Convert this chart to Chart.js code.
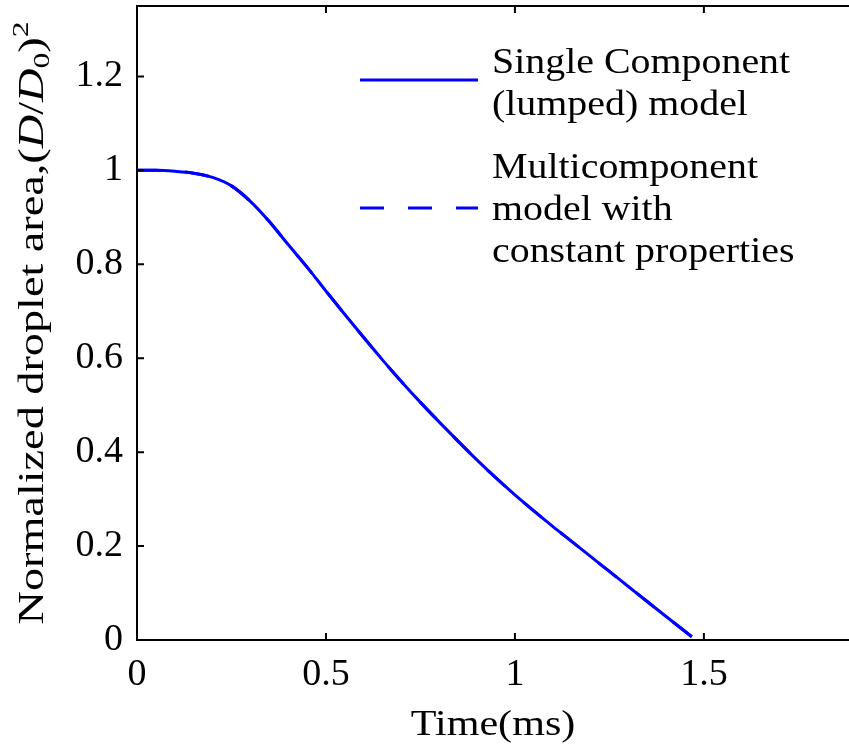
<!DOCTYPE html>
<html>
<head>
<meta charset="utf-8">
<script src="https://cdn.jsdelivr.net/npm/chart.js@4/dist/chart.umd.min.js"></script>
<style>
html, body { margin: 0; padding: 0; background: #fff; }
</style>
</head>
<body>
<canvas id="myChart" width="849" height="749"></canvas>
<script>
// values
const timeMs = [0, 0.05, 0.10, 0.15, 0.20, 0.25, 0.30, 0.35, 0.40, 0.45, 0.50, 0.55, 0.60, 0.65, 0.70, 0.75, 0.80, 0.85, 0.90, 0.95, 1.00, 1.05, 1.10, 1.15, 1.20, 1.25, 1.30, 1.35, 1.40, 1.468];
const singleArea = [1.000, 1.000, 0.998, 0.994, 0.985, 0.967, 0.934, 0.891, 0.842, 0.794, 0.743, 0.693, 0.644, 0.596, 0.550, 0.506, 0.464, 0.423, 0.383, 0.345, 0.309, 0.275, 0.242, 0.210, 0.178, 0.146, 0.114, 0.082, 0.050, 0.007];
const multiArea = [1.000, 1.000, 0.998, 0.994, 0.985, 0.967, 0.934, 0.891, 0.842, 0.794, 0.743, 0.693, 0.644, 0.596, 0.550, 0.506, 0.464, 0.423, 0.383, 0.345, 0.309, 0.275, 0.242, 0.210, 0.178, 0.146, 0.114, 0.082, 0.050, 0.007];
const xTicks = [0, 0.5, 1, 1.5];
const xTickLabels = ['0', '0.5', '1', '1.5'];
const yTicks = [0, 0.2, 0.4, 0.6, 0.8, 1, 1.2];
const yTickLabels = ['0', '0.2', '0.4', '0.6', '0.8', '1', '1.2'];
const seriesNames = [['Single Component', '(lumped) model'], ['Multicomponent', 'model with', 'constant properties']];
const xTitle = 'Time(ms)';

const serif = '"Liberation Serif", "DejaVu Serif", serif';

const toPoints = (ys) => timeMs.map((t, i) => ({ x: t, y: ys[i] }));

// the original uses a wider (LaTeX) serif, so stretch a bit
const stretchText = (ctx, text, x, y, sx) => {
    ctx.save();
    ctx.translate(x, y);
    ctx.scale(sx, 1);
    ctx.fillText(text, 0, 0);
    ctx.restore();
};

const matlabAxes = {
    id: 'matlabAxes',
    afterDraw(chart) {
        const ctx = chart.ctx;
        const area = chart.chartArea;
        const xs = chart.scales.x;
        const ys = chart.scales.y;
        ctx.save();
        ctx.strokeStyle = '#000';
        ctx.lineWidth = 2;
        // top border
        ctx.beginPath();
        ctx.moveTo(area.left, area.top);
        ctx.lineTo(area.right, area.top);
        ctx.stroke();
        // inward ticks
        const tl = 7;
        ctx.beginPath();
        xTicks.forEach(v => {
            const px = xs.getPixelForValue(v);
            ctx.moveTo(px, area.bottom);
            ctx.lineTo(px, area.bottom - tl);
            ctx.moveTo(px, area.top);
            ctx.lineTo(px, area.top + tl);
        });
        yTicks.forEach(v => {
            const py = ys.getPixelForValue(v);
            ctx.moveTo(area.left, py);
            ctx.lineTo(area.left + tl, py);
        });
        ctx.stroke();

        // legend
        const datasets = chart.data.datasets;
        const lineY = [80, 208];
        const textTop = [73, 178];
        datasets.forEach((ds, i) => {
            ctx.strokeStyle = ds.borderColor;
            ctx.lineWidth = ds.borderWidth;
            ctx.setLineDash(ds.borderDash || []);
            ctx.beginPath();
            ctx.moveTo(360, lineY[i]);
            ctx.lineTo(478, lineY[i]);
            ctx.stroke();
            ctx.setLineDash([]);
            ctx.fillStyle = '#000';
            ctx.font = '35px ' + serif;
            ctx.textBaseline = 'alphabetic';
            ctx.textAlign = 'left';
            seriesNames[i].forEach((s, j) => {
                stretchText(ctx, s, 492, textTop[i] + j * 42, 1.14);
            });
        });

        // x axis title
        ctx.font = '36px ' + serif;
        ctx.textAlign = 'center';
        stretchText(ctx, xTitle, (area.left + area.right) / 2, 735, 1.17);

        // y axis title with math parts
        const parts = [
            { t: 'Normalized droplet area,', f: '35px ' + serif, dy: 0 },
            { t: '(', f: '35px ' + serif, dy: 0 },
            { t: 'D', f: 'italic 35px ' + serif, dy: 0 },
            { t: '/', f: '35px ' + serif, dy: 0 },
            { t: 'D', f: 'italic 35px ' + serif, dy: 0 },
            { t: '0', f: '24px ' + serif, dy: 6 },
            { t: ')', f: '35px ' + serif, dy: 0 },
            { t: '2', f: '24px ' + serif, dy: -15 }
        ];
        let total = 0;
        parts.forEach(p => { ctx.font = p.f; p.w = ctx.measureText(p.t).width; total += p.w; });
        const targetLen = 603;
        ctx.translate(43, (area.top + area.bottom) / 2);
        ctx.rotate(-Math.PI / 2);
        ctx.scale(targetLen / total, 1);
        ctx.textAlign = 'left';
        ctx.textBaseline = 'alphabetic';
        let x = -total / 2;
        parts.forEach(p => {
            ctx.font = p.f;
            ctx.fillText(p.t, x, p.dy);
            x += p.w;
        });
        ctx.restore();
    }
};

const data = {
    datasets: [{
        label: seriesNames[0].join(' '),
        data: toPoints(singleArea),
        borderColor: '#0000ff',
        borderWidth: 3,
        pointRadius: 0,
        cubicInterpolationMode: 'monotone'
    }, {
        label: seriesNames[1].join(' '),
        data: toPoints(multiArea),
        borderColor: '#0000ff',
        borderWidth: 3,
        borderDash: [24, 24],
        pointRadius: 0,
        cubicInterpolationMode: 'monotone'
    }]
};

const config = {
    type: 'line',
    data: data,
    options: {
        responsive: false,
        animation: false,
        devicePixelRatio: 1,
        layout: { padding: { top: 6, left: 0, right: 0, bottom: 0 } },
        plugins: { legend: { display: false }, tooltip: { enabled: false } },
        scales: {
            x: {
                type: 'linear',
                min: 0,
                max: 1.884,
                afterBuildTicks: (s) => { s.ticks = xTicks.map(v => ({ value: v })); },
                afterFit: (s) => { s.height = 109; s.paddingLeft = 0; s.paddingRight = 0; },
                grid: { display: true, drawOnChartArea: false, drawTicks: false },
                border: { color: '#000', width: 2 },
                ticks: {
                    color: '#000',
                    font: { family: serif, size: 38 },
                    padding: 12,
                    maxRotation: 0,
                    callback: (v) => xTickLabels[xTicks.indexOf(v)]
                }
            },
            y: {
                type: 'linear',
                min: 0,
                max: 1.35,
                afterBuildTicks: (s) => { s.ticks = yTicks.map(v => ({ value: v })); },
                afterFit: (s) => { s.width = 137; s.paddingTop = 0; s.paddingBottom = 0; },
                grid: { display: true, drawOnChartArea: false, drawTicks: false },
                border: { color: '#000', width: 2 },
                ticks: {
                    color: '#000',
                    font: { family: serif, size: 38 },
                    padding: 14,
                    callback: (v) => yTickLabels[yTicks.indexOf(v)]
                }
            }
        }
    },
    plugins: [matlabAxes]
};

const myChart = new Chart(document.getElementById('myChart'), config);
</script>
</body>
</html>
